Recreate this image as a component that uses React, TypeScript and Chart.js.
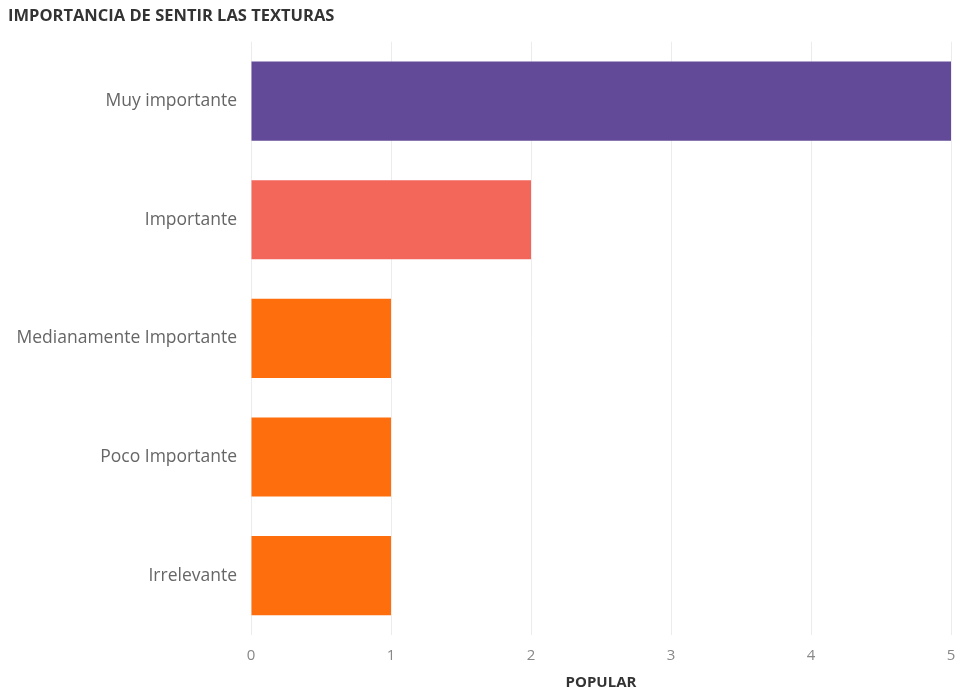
import React, { useEffect, useRef } from "react";
import { Chart, registerables } from "chart.js";

Chart.register(...registerables);

const categories = ["Muy importante", "Importante", "Medianamente Importante", "Poco Importante", "Irrelevante"];
const values = [5, 2, 1, 1, 1];
const barColors = ["#624a99", "#f3675b", "#ff6e0c", "#ff6e0c", "#ff6e0c"];
const titleText = "IMPORTANCIA DE SENTIR LAS TEXTURAS";
const xTitle = "POPULAR";

export default function App() {
  const ref = useRef<HTMLCanvasElement>(null);
  useEffect(() => {
    const chart = new Chart(ref.current!, {
      type: "bar",
      data: {
        labels: categories,
        datasets: [
          {
            data: values,
            backgroundColor: barColors,
            barPercentage: 0.667,
            categoryPercentage: 1,
          },
        ],
      },
      options: {
        indexAxis: "y",
        animation: false,
        responsive: false,
        maintainAspectRatio: false,
        layout: { padding: { left: 8, right: 6, top: 0, bottom: 0 } },
        plugins: {
          legend: { display: false },
          tooltip: { enabled: false },
          title: {
            display: true,
            text: titleText,
            align: "start",
            color: "#333",
            font: { family: "Open Sans", size: 16.5, weight: "bold" },
            padding: { top: 6, bottom: 16 },
          },
        },
        scales: {
          x: {
            min: 0,
            max: 5,
            ticks: {
              stepSize: 1,
              color: "#888",
              padding: 12,
              font: { family: "Open Sans", size: 15 },
            },
            grid: { color: "#ececec", drawTicks: false },
            border: { display: false },
            title: {
              display: true,
              text: xTitle,
              color: "#333",
              font: { family: "Open Sans", size: 15, weight: "bold" },
              padding: { top: 4, bottom: 0 },
            },
            afterFit: (s: any) => {
              s.height = 57;
              s.paddingRight = 0;
            },
          },
          y: {
            ticks: {
              color: "#666",
              padding: 6,
              font: { family: "Open Sans", size: 17.5 },
            },
            grid: { display: false },
            border: { display: false },
            afterFit: (s: any) => {
              s.width = 243;
            },
          },
        },
      },
    });
    return () => chart.destroy();
  }, []);
  return (
    <div style={{ position: "absolute", left: 0, top: 0, width: 957, height: 692, background: "#fff" }}>
      <canvas ref={ref} width={957} height={692} />
    </div>
  );
}
